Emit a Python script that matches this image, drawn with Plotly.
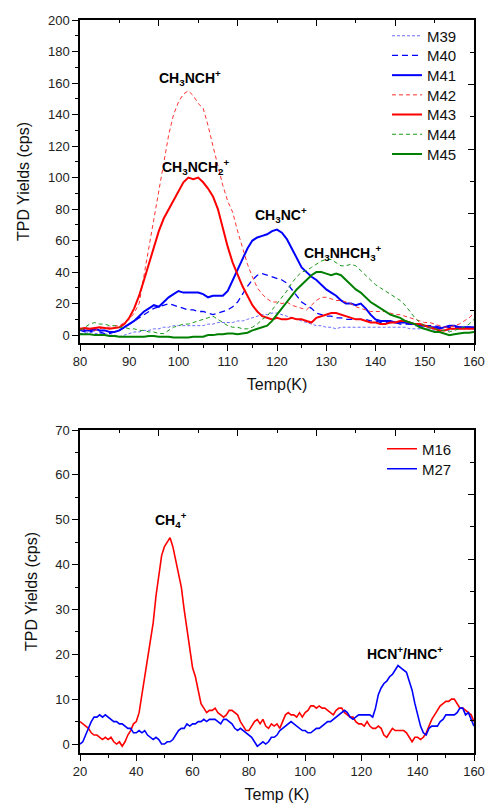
import plotly.graph_objects as go

# ---------------- data: top panel ----------------
temp_top = list(range(80, 161))

m39 = [1, 1, 2, 1, 1, 1, 0, 0, -1, 0, 1, 2, 2, 3, 3, 4, 4, 5, 5, 6,
       6, 6, 6, 6, 6, 6, 7, 7, 8, 8, 8, 8, 9, 9, 10, 11, 12, 13, 13, 14,
       14, 13, 12, 11, 10, 9, 8, 7, 6, 6, 5, 5, 4, 5, 5, 5, 5, 5, 5, 5,
       5, 5, 5, 5, 5, 5, 5, 4, 4, 4, 4, 4, 3, 3, 3, 3, 4, 4, 4, 4, 4]

m40 = [3, 2, 2, 3, 2, 1, 1, 2, 3, 5, 7, 9, 11, 13, 15, 17, 18, 19, 20, 19,
       18, 17, 16, 16, 15, 15, 14, 13, 14, 15, 16, 18, 21, 26, 31, 35, 38, 39, 38, 37,
       36, 35, 33, 29, 25, 21, 19, 17, 14, 13, 12, 12, 11, 11, 10, 10, 10, 10, 10, 9,
       9, 8, 8, 8, 8, 7, 7, 7, 6, 6, 6, 6, 6, 5, 5, 5, 5, 5, 5, 5, 5]

m41 = [4, 3, 3, 4, 3, 3, 2, 2, 3, 5, 7, 9, 12, 15, 17, 19, 18, 21, 24, 26,
       28, 27, 27, 27, 27, 26, 24, 25, 25, 25, 28, 35, 41, 48, 55, 60, 62, 63, 64, 66,
       67, 65, 61, 55, 49, 43, 40, 37, 35, 32, 29, 27, 25, 22, 20, 20, 19, 20, 17, 13,
       10, 9, 9, 9, 8, 8, 8, 7, 7, 6, 6, 5, 5, 4, 5, 6, 6, 5, 5, 5, 5]

m42 = [4, 3, 4, 3, 4, 5, 5, 6, 6, 8, 10, 14, 20, 38, 56, 75, 92, 110, 127, 140,
       148, 153, 155, 152, 147, 144, 133, 120, 107, 95, 85, 78, 66, 55, 45, 37, 30, 26, 23, 21,
       21, 20, 21, 19, 18, 17, 16, 19, 22, 24, 24, 23, 22, 22, 21, 20, 18, 17, 16, 15,
       15, 15, 15, 14, 13, 13, 12, 11, 10, 9, 8, 8, 7, 6, 5, 5, 6, 7, 9, 11, 14]

m43 = [4, 4.5, 4, 4.5, 5, 4.5, 4, 4.5, 5, 7, 11, 17, 25, 35, 45, 56, 66, 74, 80, 86,
       92, 97, 100, 99, 100, 97, 93, 88, 80, 68, 56, 46, 38, 31, 25, 19, 15, 12, 11, 10,
       11, 10, 10, 11, 10, 10, 9, 8, 11, 12, 13, 14, 14, 13, 12, 11, 10, 10, 9, 8,
       8, 7, 7, 8, 8, 9, 9, 8, 7, 7, 6, 5, 4, 3, 3, 4, 4, 4, 4, 4, 4]

m44 = [3, 5, 7, 8, 7, 7, 6, 6, 5, 5, 4, 4, 3, 3, 2, 2, 1, 1, 3, 5,
       6, 7, 7, 8, 9, 10, 11, 12, 10, 8, 6, 5, 5, 4, 4, 5, 7, 10, 12, 16,
       20, 24, 28, 33, 37, 40, 41, 43, 45, 47, 48, 48, 46, 44, 44, 45, 44, 41, 38, 35,
       32, 30, 28, 26, 24, 22, 19, 15, 11, 8, 6, 5, 4, 3, 3, 2, 3, 4, 5, 7, 10]

m45 = [0.5, 0.5, 0.5, 0, 0, 0, -0.5, -0.5, -1, -1, -1, -1, -1, -1, -0.5, -0.5, -1, -1, -1, -1.5,
       -1.5, -1.5, -1.5, -1, -1, -1, 0, 0, 0.5, 0.5, 1, 1, 0.5, 1, 1.5, 3, 4, 5, 6, 9,
       13, 17, 21, 25, 29, 32, 35, 38, 40, 40, 39, 38, 39, 38, 35, 32, 29, 27, 24, 21,
       19, 17, 15, 13, 12, 11, 9, 8, 7, 5, 4, 3, 2, 2, 1, 0, 0.5, 1, 1.5, 1.5, 2]

# ---------------- data: bottom panel ----------------
temp_bot = list(range(20, 161))

m16 = [5, 4.5, 4, 3.5, 2.5, 2, 2, 1.5, 1, 1.5, 1, 1.5, 0.5, 0, 0.5, -0.5, 0.5, 2, 3, 4.5,
       5, 7, 11, 15, 19, 23, 27, 33, 38, 42, 44, 45, 46, 44, 41, 38, 35, 30, 26, 21,
       17, 15, 12, 9, 8, 7, 7.5, 7.5, 8, 7, 6.5, 6, 6.5, 7.5, 7.5, 7, 6.5, 5, 4, 3,
       3, 4, 5, 5.5, 4.5, 5.5, 4, 3.5, 4.5, 4, 4.5, 3.5, 5, 6.5, 7, 6.5, 6.5, 6, 7, 6,
       7, 7.5, 8.5, 8.5, 8, 8.5, 8, 8, 7.5, 7, 6.5, 7.5, 8, 8, 7, 6.5, 6, 6, 5, 4.5,
       4.5, 4, 5, 4, 3.5, 3.5, 4, 3.5, 2, 1.5, 2.5, 3.5, 3, 3, 3, 3, 2.5, 1.5, 0.5, 1.5,
       1.5, 1, 1.5, 2.5, 4, 5.5, 6.5, 7.5, 8.5, 9, 9.5, 9.5, 10, 10, 9, 8, 8, 7.5, 7, 6.5,
       5]

m27 = [0, 0.5, 2, 3.5, 5, 6, 6, 6.5, 6, 6.5, 6, 5.5, 5, 5, 4.5, 4.5, 4, 3.5, 3.5, 2.5,
       2.5, 3, 2.5, 3, 2, 1.5, 1, 1.5, 1, 0, 0, 0.5, 0.5, 1, 2, 3, 3.5, 3.5, 4.5, 4,
       4.5, 4.5, 5, 5, 5.5, 5, 5.5, 5.5, 5.5, 5, 4.5, 5.5, 5.5, 5, 4.5, 3.5, 3, 3.5, 3, 2.5,
       2, 1.5, 0.5, -0.5, 0, 0.5, 0, 0.5, 1.5, 1.5, 2, 3, 3.5, 4, 4.5, 5, 4.5, 4, 3.5, 3,
       3, 2.5, 2.5, 3, 3.5, 3.5, 4, 4.5, 5, 5, 5.5, 6, 6.5, 7, 7.5, 7, 6, 5.5, 6, 6.5,
       6.5, 6.5, 6.5, 6.5, 6, 8, 11, 12.5, 13.5, 14, 15, 15.5, 16.5, 17.5, 17, 16.5, 16, 14, 12, 9,
       6.5, 4, 2.5, 2, 3.5, 4, 4, 4, 5, 5.5, 6.5, 6.5, 6.5, 6.5, 7, 8, 8, 6.5, 7, 5.5,
       4]

top_names = ["M39", "M40", "M41", "M42", "M43", "M44", "M45"]
top_values = [m39, m40, m41, m42, m43, m44, m45]
top_colors = ["#6b6bff", "#0000ff", "#0000ff", "#ff3333", "#ff0000", "#1a9a1a", "#008000"]
top_dash = ["3px,2px", "6px,4px", "solid", "4px,3px", "solid", "4px,3px", "solid"]
top_width = [1, 1.3, 2, 1, 2, 1, 2]

bot_names = ["M16", "M27"]
bot_values = [m16, m27]
bot_colors = ["#ff0000", "#0000ff"]

FONT = "Liberation Sans, Arial, sans-serif"
FIG_W, FIG_H = 487, 803
M_L, M_R, M_T, M_B = 80, 13, 20, 50
PLOT_H = FIG_H - M_T - M_B
PLOT_W = FIG_W - M_L - M_R

def paper_y(py):
    return 1 - (py - M_T) / PLOT_H

def paper_x(px):
    return (px - M_L) / PLOT_W

fig = go.Figure()

legend_layout = {}
leg_idx = 0

def legend_key(i):
    return "legend" if i == 0 else "legend%d" % (i + 1)

for k, (name, vals, col, dash, w) in enumerate(zip(top_names, top_values, top_colors, top_dash, top_width)):
    key = legend_key(leg_idx)
    fig.add_trace(go.Scatter(x=temp_top, y=vals, name=name, mode="lines",
                             line=dict(color=col, dash=dash, width=w),
                             xaxis="x", yaxis="y", legend=key))
    legend_layout[key] = dict(x=paper_x(387), y=paper_y(36 + 19.7 * k),
                              xanchor="left", yanchor="middle",
                              bgcolor="rgba(0,0,0,0)", borderwidth=0,
                              font=dict(family=FONT, size=15, color="#111"),
                              itemwidth=30)
    leg_idx += 1

for k, (name, vals, col) in enumerate(zip(bot_names, bot_values, bot_colors)):
    key = legend_key(leg_idx)
    fig.add_trace(go.Scatter(x=temp_bot, y=vals, name=name, mode="lines",
                             line=dict(color=col, width=1.6),
                             xaxis="x2", yaxis="y2", legend=key))
    legend_layout[key] = dict(x=paper_x(382), y=paper_y(449 + 20 * k),
                              xanchor="left", yanchor="middle",
                              bgcolor="rgba(0,0,0,0)", borderwidth=0,
                              font=dict(family=FONT, size=15, color="#111"),
                              itemwidth=30)
    leg_idx += 1

# dummy traces to activate the inward tick frames (top/right)
fig.add_trace(go.Scatter(x=[None], y=[None], xaxis="x3", yaxis="y3",
                         showlegend=False, hoverinfo="skip"))
fig.add_trace(go.Scatter(x=[None], y=[None], xaxis="x4", yaxis="y4",
                         showlegend=False, hoverinfo="skip"))

top_dom = [paper_y(343), 1.0]
bot_dom = [0.0, paper_y(430)]

def main_x(rng, dtick, minor, title, anchor):
    return dict(domain=[0, 1], range=rng, dtick=dtick, tick0=0, anchor=anchor,
                automargin=False,
                ticks="outside", ticklen=6, tickwidth=1.2, tickcolor="black",
                minor=dict(dtick=minor, tick0=0, ticks="outside", ticklen=3,
                           tickwidth=1.2, tickcolor="black"),
                showline=True, linecolor="black", linewidth=1.5, mirror=True,
                showgrid=False, zeroline=False,
                tickfont=dict(family=FONT, size=13, color="#222"),
                title=dict(text=title, font=dict(family=FONT, size=16, color="#111"),
                           standoff=10))

def main_y(rng, dtick, minor, dom, anchor):
    return dict(domain=dom, range=rng, dtick=dtick, tick0=0, anchor=anchor,
                automargin=False,
                ticks="outside", ticklen=6, tickwidth=1.2, tickcolor="black",
                minor=dict(dtick=minor, tick0=0, ticks="outside", ticklen=3,
                           tickwidth=1.2, tickcolor="black"),
                showline=True, linecolor="black", linewidth=1.5, mirror=True,
                showgrid=False, zeroline=False,
                tickfont=dict(family=FONT, size=13, color="#222"),
                title=dict(text="TPD Yields (cps)",
                           font=dict(family=FONT, size=16, color="#111"),
                           standoff=14))

def frame_x(over, anchor):
    return dict(overlaying=over, anchor=anchor, side="top", range=[0, 10],
                automargin=False,
                tickvals=[2, 4, 6, 8], ticks="inside", ticklen=6, tickwidth=1.2,
                tickcolor="black", showticklabels=False, showgrid=False,
                zeroline=False, showline=False,
                minor=dict(tickvals=[1, 3, 5, 7, 9], ticks="inside", ticklen=3,
                           tickwidth=1.2, tickcolor="black"))

def frame_y(over, anchor):
    return dict(overlaying=over, anchor=anchor, side="right", range=[0, 10],
                automargin=False,
                tickvals=[2, 4, 6, 8], ticks="inside", ticklen=6, tickwidth=1.2,
                tickcolor="black", showticklabels=False, showgrid=False,
                zeroline=False, showline=False,
                minor=dict(tickvals=[1, 3, 5, 7, 9], ticks="inside", ticklen=4,
                           tickwidth=1.2, tickcolor="black"))

ann_font = dict(family=FONT, size=14, color="black")

def ann(text, x, y, xr, yr):
    return dict(text="<b>" + text + "</b>", x=x, y=y, xref=xr, yref=yr,
                showarrow=False, font=ann_font)

fig.update_layout(
    width=FIG_W, height=FIG_H,
    margin=dict(l=M_L, r=M_R, t=M_T, b=M_B, autoexpand=False),
    paper_bgcolor="white", plot_bgcolor="white",
    showlegend=True,
    xaxis=main_x([80, 160], 10, 5, "Temp(K)", "y"),
    yaxis=main_y([-5, 200], 20, 10, top_dom, "x"),
    xaxis2=main_x([20, 160], 20, 10, "Temp (K)", "y2"),
    yaxis2=main_y([-2, 70], 10, 5, bot_dom, "x2"),
    xaxis3=frame_x("x", "y"),
    yaxis3=dict(frame_y("y", "x"), domain=top_dom),
    xaxis4=frame_x("x2", "y2"),
    yaxis4=dict(frame_y("y2", "x2"), domain=bot_dom),
    annotations=[
        ann("CH<sub>3</sub>NCH<sup>+</sup>", 102.3, 163, "x", "y"),
        ann("CH<sub>3</sub>NCH<sub>2</sub><sup>+</sup>", 103.4, 107, "x", "y"),
        ann("CH<sub>3</sub>NC<sup>+</sup>", 120.9, 76, "x", "y"),
        ann("CH<sub>3</sub>NHCH<sub>3</sub><sup>+</sup>", 133.3, 52, "x", "y"),
        ann("CH<sub>4</sub><sup>+</sup>", 52.5, 50, "x2", "y2"),
        ann("HCN<sup>+</sup>/HNC<sup>+</sup>", 135.5, 20.3, "x2", "y2"),
    ],
)
fig.update_layout(**legend_layout)

fig.write_html(
    "out.html",
    config={"displayModeBar": False},
    post_script="document.body.style.margin='0';document.body.style.padding='0';"
                "document.documentElement.style.margin='0';",
)
